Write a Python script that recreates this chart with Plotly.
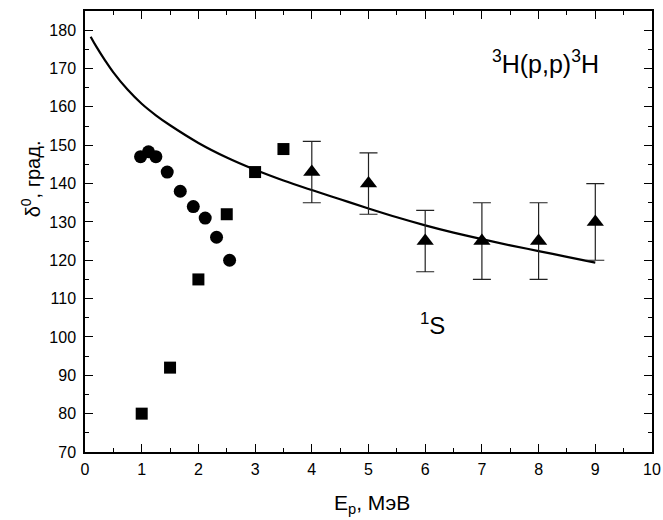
import plotly.graph_objects as go

# Theoretical curve (solid line)
curve_x = [0.1, 0.2, 0.35, 0.5, 0.75, 1.0, 1.25, 1.5, 2.0, 2.5, 3.0, 3.5, 4.0, 4.5,
           5.0, 5.5, 6.0, 6.5, 7.0, 7.5, 8.0, 8.5, 9.0]
curve_y = [178.3, 175.7, 172.2, 169.0, 164.5, 160.8, 157.8, 155.2, 150.6, 146.8, 143.6,
           140.8, 138.3, 135.9, 133.5, 131.2, 129.1, 127.2, 125.5, 123.9, 122.4, 120.9, 119.4]

# Circles
circ_x = [0.98, 1.12, 1.25, 1.45, 1.68, 1.91, 2.12, 2.32, 2.55]
circ_y = [147, 148.3, 147, 143, 138, 134, 131, 126, 120]

# Squares
sq_x = [1.0, 1.5, 2.0, 2.5, 3.0, 3.5]
sq_y = [80, 92, 115, 132, 143, 149]

# Triangles with error bars
tri_x = [4, 5, 6, 7, 8, 9]
tri_y = [143, 140, 125, 125, 125, 130]
tri_err = [8, 8, 8, 10, 10, 10]

x_ticks = list(range(0, 11))
y_ticks = list(range(70, 181, 10))

FONT = "Liberation Sans, Arial, Helvetica, sans-serif"

fig = go.Figure()
fig.add_trace(go.Scatter(x=curve_x, y=curve_y, mode="lines", line=dict(color="black", width=2.2, shape="spline"),
                         showlegend=False, hoverinfo="skip"))
fig.add_trace(go.Scatter(x=tri_x, y=tri_y, mode="markers",
                         marker=dict(symbol="triangle-up", size=15, color="black"),
                         error_y=dict(type="data", array=tri_err, visible=True, color="#222222",
                                      thickness=1.2, width=9),
                         showlegend=False))
fig.add_trace(go.Scatter(x=circ_x, y=circ_y, mode="markers",
                         marker=dict(symbol="circle", size=13, color="black"), showlegend=False))
fig.add_trace(go.Scatter(x=sq_x, y=sq_y, mode="markers",
                         marker=dict(symbol="square", size=12, color="black"), showlegend=False))

axis_common = dict(showline=True, linecolor="black", linewidth=1.5, mirror="ticks",
                   ticks="inside", ticklen=8, tickwidth=1.3, tickcolor="black",
                   showgrid=False, zeroline=False, automargin=False,
                   tickfont=dict(family=FONT, size=16, color="black"))

fig.update_xaxes(range=[0, 10], tickmode="array", tickvals=x_ticks, ticktext=[str(v) for v in x_ticks],
                 minor=dict(dtick=0.5, tick0=0, ticks="inside", ticklen=4, tickwidth=1.3, tickcolor="black"),
                 ticklabelstandoff=2, **axis_common)
fig.update_yaxes(range=[70, 185], tickmode="array", tickvals=y_ticks, ticktext=[str(v) for v in y_ticks],
                 minor=dict(dtick=5, tick0=70, ticks="inside", ticklen=4, tickwidth=1.3, tickcolor="black"),
                 ticklabelstandoff=4, **axis_common)

fig.add_annotation(text="<sup>3</sup>H(p,p)<sup>3</sup>H", x=8.13, y=171.8, xref="x", yref="y",
                   showarrow=False, font=dict(family=FONT, size=25, color="black"))
fig.add_annotation(text="<sup>1</sup>S", x=6.12, y=103.5, xref="x", yref="y",
                   showarrow=False, font=dict(family=FONT, size=24, color="black"))
fig.add_annotation(text="E<sub>p</sub>, МэВ", x=0.506, y=-0.151, xref="paper", yref="paper",
                   showarrow=False, font=dict(family=FONT, size=21, color="black"))
fig.add_annotation(text="δ<sup>0</sup>, град.", x=-0.122, y=0.619, xref="paper", yref="paper",
                   textangle=-90, showarrow=False, font=dict(family=FONT, size=20, color="black"))

fig.update_layout(width=663, height=520, margin=dict(l=85, r=11, t=11, b=68, autoexpand=False),
                  plot_bgcolor="white", paper_bgcolor="white")

# remove the default page margin so the figure fills the window exactly
fig.write_html("out.html", config={"displayModeBar": False},
               post_script="document.body.style.margin='0';document.body.style.overflow='hidden';")
